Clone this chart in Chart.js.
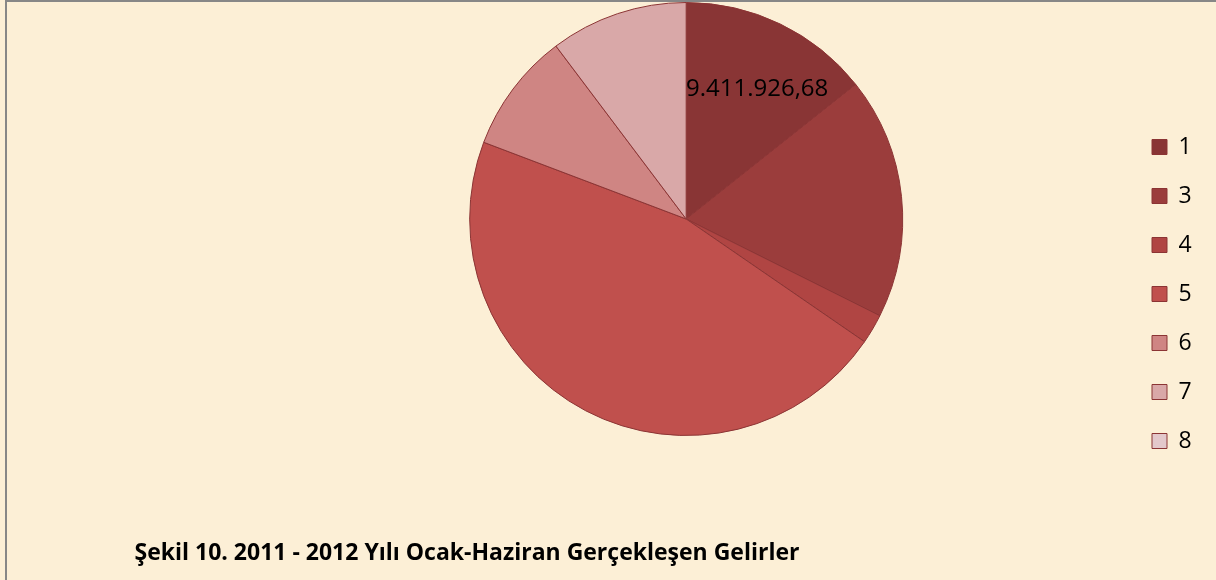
<!DOCTYPE html>
<html>
<head>
<meta charset="utf-8">
<script src="https://cdn.jsdelivr.net/npm/chart.js@4"></script>
<style>
  html, body { margin: 0; padding: 0; }
  body { width: 1216px; height: 580px; overflow: hidden; background: #fcefd6; }
  #wrap { position: relative; width: 1216px; height: 580px; }
  #wrap canvas { position: absolute; left: 0; top: 0; }
  #frameTop { position: absolute; left: 5px; top: 0; width: 1211px; height: 2px; background: #878787; }
  #frameLeft { position: absolute; left: 5px; top: 0; width: 2px; height: 580px; background: #878787; }
  #caption { position: absolute; left: 0; top: 535px; width: 934px; text-align: center;
             font-family: 'Open Sans', sans-serif; font-weight: bold; font-size: 23px; color: #000; }
</style>
</head>
<body>
<div id="wrap">
  <canvas id="pie" width="1216" height="580"></canvas>
  <div id="frameTop"></div>
  <div id="frameLeft"></div>
  <div id="caption">Şekil 10. 2011 - 2012 Yılı Ocak-Haziran Gerçekleşen Gelirler</div>
</div>
<script>
'use strict';

// categories (legend labels) and values
const LABELS = ['1', '3', '4', '5', '6', '7', '8'];
const VALUES = [9411926.68, 11860000, 1460000, 30340000, 5890000, 6750000, 0];
const COLORS = ['#893535', '#9b3d3c', '#b04543', '#c0504d', '#cf8583', '#d9a8a8', '#e3c8cb'];
const SHOW_LABEL = [true, false, false, false, false, false, false];

// where the legend column sits
const LEGEND_X = 1152;
const LEGEND_FIRST_Y = 147;

const fmt = v => v.toLocaleString('tr-TR', { minimumFractionDigits: 2, maximumFractionDigits: 2 });

// move the legend column to the right-hand spot used in the original
const legendPlace = {
    id: 'legendPlace',
    afterLayout(chart) {
        const lg = chart.legend;
        if (!lg || !lg.columnSizes) return;
        const pad = lg.options.labels.padding;
        const itemH = lg.legendHitBoxes[0].height;
        const firstTop = (lg.top + pad + lg.bottom - lg.columnSizes[0].height) / 2;
        const dy = (LEGEND_FIRST_Y - itemH / 2) - firstTop;
        const dx = (LEGEND_X - pad) - lg.left;
        lg.left += dx; lg.right += dx;
        lg.top += dy; lg.bottom += dy;
    }
};

// value label drawn inside the slice
const sliceLabels = {
    id: 'sliceLabels',
    afterDatasetsDraw(chart) {
        const ctx = chart.ctx;
        const meta = chart.getDatasetMeta(0);
        ctx.save();
        ctx.font = '24px "Open Sans", sans-serif';
        ctx.fillStyle = '#000';
        ctx.textAlign = 'center';
        ctx.textBaseline = 'middle';
        meta.data.forEach((arc, i) => {
            if (!SHOW_LABEL[i]) return;
            const p = arc.getProps(['x', 'y', 'startAngle', 'endAngle', 'outerRadius'], true);
            const mid = (p.startAngle + p.endAngle) / 2;
            const r = p.outerRadius * 0.69;
            ctx.fillText(fmt(VALUES[i]), p.x + Math.cos(mid) * r + 6, p.y + Math.sin(mid) * r + 5);
        });
        ctx.restore();
    }
};

new Chart(document.getElementById('pie'), {
    type: 'pie',
    data: {
        labels: LABELS,
        datasets: [{
            data: VALUES,
            backgroundColor: COLORS,
            borderColor: '#8b3434',
            borderWidth: 1
        }]
    },
    options: {
        responsive: false,
        animation: false,
        layout: { padding: { left: 232, right: 0, top: 2, bottom: 144 } },
        plugins: {
            legend: {
                position: 'right',
                labels: {
                    boxWidth: 15,
                    boxHeight: 15,
                    padding: 26,
                    color: '#000',
                    font: { family: '"Open Sans", sans-serif', size: 23 }
                }
            },
            tooltip: { enabled: false }
        }
    },
    plugins: [legendPlace, sliceLabels]
});
</script>
</body>
</html>
